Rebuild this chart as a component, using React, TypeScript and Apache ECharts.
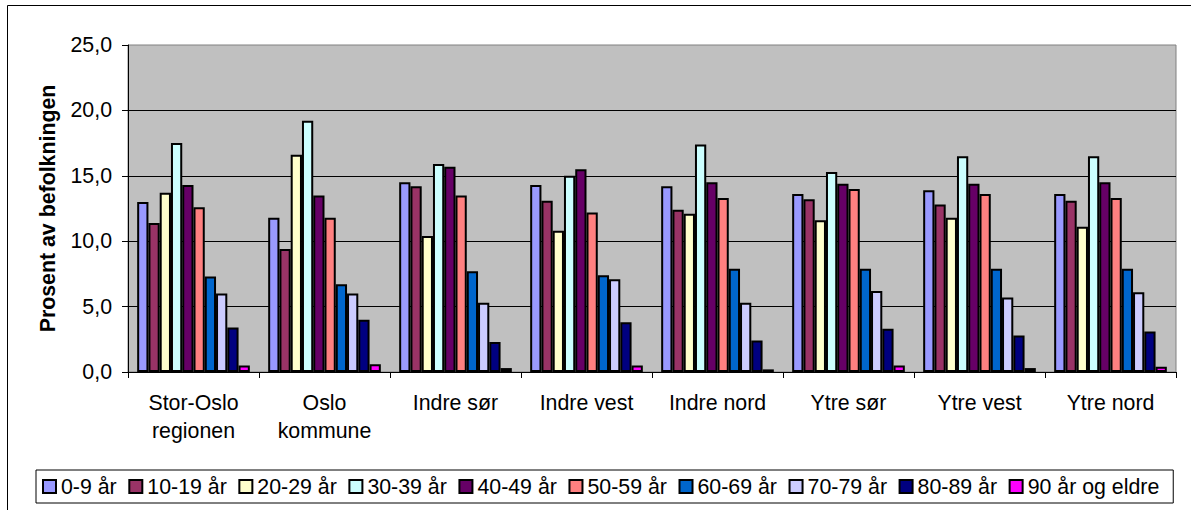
import React, { useEffect, useRef } from "react";
import * as echarts from "echarts";

const regions = [
  "Stor-Oslo\nregionen",
  "Oslo\nkommune",
  "Indre sør",
  "Indre vest",
  "Indre nord",
  "Ytre sør",
  "Ytre vest",
  "Ytre nord",
];

const ageGroups = [
  "0-9 år",
  "10-19 år",
  "20-29 år",
  "30-39 år",
  "40-49 år",
  "50-59 år",
  "60-69 år",
  "70-79 år",
  "80-89 år",
  "90 år og eldre",
];

const age0_9 = [13.0, 11.8, 14.5, 14.3, 14.2, 13.6, 13.9, 13.6];
const age10_19 = [11.4, 9.4, 14.2, 13.1, 12.4, 13.2, 12.8, 13.1];
const age20_29 = [13.7, 16.6, 10.4, 10.8, 12.1, 11.6, 11.8, 11.1];
const age30_39 = [17.5, 19.2, 15.9, 15.0, 17.4, 15.3, 16.5, 16.5];
const age40_49 = [14.3, 13.5, 15.7, 15.5, 14.5, 14.4, 14.4, 14.5];
const age50_59 = [12.6, 11.8, 13.5, 12.2, 13.3, 14.0, 13.6, 13.3];
const age60_69 = [7.3, 6.7, 7.7, 7.4, 7.9, 7.9, 7.9, 7.9];
const age70_79 = [6.0, 6.0, 5.3, 7.1, 5.3, 6.2, 5.7, 6.1];
const age80_89 = [3.4, 4.0, 2.3, 3.8, 2.4, 3.3, 2.8, 3.1];
const age90plus = [0.5, 0.6, 0.3, 0.5, 0.2, 0.5, 0.3, 0.4];

const seriesValues = [
  age0_9,
  age10_19,
  age20_29,
  age30_39,
  age40_49,
  age50_59,
  age60_69,
  age70_79,
  age80_89,
  age90plus,
];

const colors = [
  "#9999FF",
  "#993366",
  "#FFFFCC",
  "#CCFFFF",
  "#660066",
  "#FF8080",
  "#0066CC",
  "#CCCCFF",
  "#000080",
  "#FF00FF",
];

const FONT = "'Liberation Sans', Arial, sans-serif";
const FS = 21.33;

export default function App() {
  const ref = useRef<HTMLDivElement>(null);

  useEffect(() => {
    document.body.style.margin = "0";
    if (!ref.current) return;
    const chart = echarts.init(ref.current, undefined, { renderer: "svg" });

    const option: any = {
      animation: false,
      backgroundColor: "#FFFFFF",
      textStyle: { fontFamily: FONT, color: "#000" },
      graphic: [
        {
          type: "rect",
          shape: { x: 7.5, y: 5.5, width: 1300, height: 600 },
          style: { fill: "none", stroke: "#000", lineWidth: 1 },
          silent: true,
          z: -1,
        },
      ],
      grid: {
        left: 128,
        right: 15,
        top: 45,
        bottom: 138,
        show: true,
        backgroundColor: "#C0C0C0",
        borderColor: "#808080",
        borderWidth: 1,
        containLabel: false,
      },
      legend: {
        data: ageGroups,
        left: 36,
        top: 470,
        padding: [6, 14, 6, 6],
        itemWidth: 13,
        itemHeight: 13,
        itemGap: 11.6,
        borderColor: "#000",
        borderWidth: 1,
        icon: "rect",
        textStyle: { fontFamily: FONT, fontSize: FS, color: "#000" },
      },
      xAxis: {
        type: "category",
        data: regions,
        axisLine: { show: true, lineStyle: { color: "#000", width: 1 } },
        axisTick: {
          show: true,
          alignWithLabel: false,
          length: 6,
          lineStyle: { color: "#000" },
        },
        axisLabel: {
          fontFamily: FONT,
          fontSize: FS,
          color: "#000",
          margin: 17,
          lineHeight: 28,
          interval: 0,
        },
        splitLine: { show: false },
      },
      yAxis: {
        type: "value",
        min: 0,
        max: 25,
        interval: 5,
        name: "Prosent av befolkningen",
        nameLocation: "middle",
        nameRotate: 90,
        nameGap: 70,
        nameTextStyle: {
          fontFamily: FONT,
          fontSize: FS,
          fontWeight: "bold",
          color: "#000",
        },
        axisLine: { show: true, lineStyle: { color: "#000", width: 1 } },
        axisTick: { show: true, length: 6, lineStyle: { color: "#000" } },
        axisLabel: {
          fontFamily: FONT,
          fontSize: FS,
          color: "#000",
          margin: 16,
          formatter: (v: number) => v.toFixed(1).replace(".", ","),
        },
        splitLine: {
          show: true,
          showMinLine: false,
          showMaxLine: false,
          lineStyle: { color: "#000", width: 1 },
        },
      },
      series: ageGroups.map((name, i) => ({
        name,
        type: "bar",
        data: seriesValues[i],
        barGap: "0%",
        barCategoryGap: "14%",
        itemStyle: {
          color: colors[i],
          borderColor: "#000",
          borderWidth: 2,
        },
      })),
    };

    chart.setOption(option);
    return () => chart.dispose();
  }, []);

  return <div ref={ref} style={{ width: 1191, height: 510 }} />;
}
